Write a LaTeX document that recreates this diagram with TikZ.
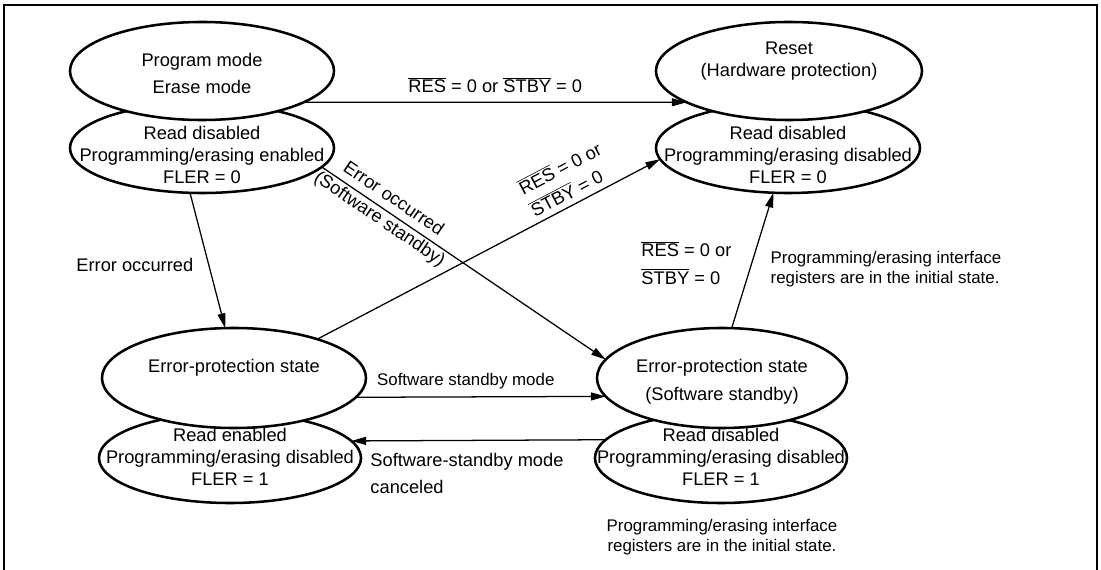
\documentclass[tikz,border=0pt]{standalone}
\usepackage{fontspec}
\setmainfont{Liberation Sans}
\usetikzlibrary{arrows.meta, shapes.geometric}
\tikzset{
  every picture/.style={line width=0.9pt},
  state/.style={ellipse, draw, fill=white, line width=1.8pt, inner sep=0pt, outer sep=0pt},
  txt/.style={align=center, inner sep=0pt, font=\fontsize{13}{15.6}\selectfont},
  arrow/.style={-{Triangle[length=10.5pt, width=5.6pt]}, line width=0.9pt},
  lbl/.style={font=\fontsize{13}{15.6}\selectfont, inner sep=2pt},
  note/.style={font=\fontsize{12}{14.2}\selectfont, inner sep=0pt},
}
\newcommand{\lowact}[1]{$\overline{\mbox{#1}}$}

\begin{document}
\begin{tikzpicture}[x=0.025cm, y=-0.025cm]
  \useasboundingbox (0,0) rectangle (1101,570);
  \draw[line width=2.1pt] (4,570) -- (4,5) -- (1097,5) -- (1097,570);

  % lower ellipses first, the upper ones hide their top arc
  \node[state, minimum width=6.6cm, minimum height=2.25cm] (pmlow) at (202,148) {};
  \node[state, minimum width=6.6cm, minimum height=2.45cm] (pm) at (202,71) {};
  \node[state, minimum width=6.6cm, minimum height=2.25cm] (rstlow) at (788,148) {};
  \node[state, minimum width=6.65cm, minimum height=2.45cm] (rst) at (789,71) {};
  \node[state, minimum width=6.55cm, minimum height=2.25cm] (eplow) at (230,458) {};
  \node[state, minimum width=6.6cm, minimum height=2.5cm] (ep) at (234,378) {};
  \node[state, minimum width=6.3cm, minimum height=2.25cm] (epslow) at (721,458) {};
  \node[state, minimum width=6.25cm, minimum height=2.5cm] (eps) at (722,378) {};

  \node[txt] (pmtxt) at (202,73.5) {Program mode\\[3.6pt]Erase mode};
  \node[txt] (pmlowtxt) at (202,155) {Read disabled\\Programming/erasing enabled\\FLER = 0};
  \node[txt] (rsttxt) at (789,61) {Reset\\(Hardware protection)};
  \node[txt] (rstlowtxt) at (788,155) {Read disabled\\Programming/erasing disabled\\FLER = 0};
  \node[txt] (eptxt) at (234,368) {Error-protection state};
  \node[txt] (eplowtxt) at (230,457) {Read enabled\\Programming/erasing disabled\\FLER = 1};
  \node[txt] (epstxt) at (722,382) {Error-protection state\\[4.3pt](Software standby)};
  \node[txt] (epslowtxt) at (721,457) {Read disabled\\Programming/erasing disabled\\FLER = 1};

  % transitions
  \draw[arrow] (pm.-17.6) -- node[lbl, above=4pt] (toplbl) {\lowact{RES} = 0 or \lowact{STBY} = 0} (rst.197.6);
  \draw[arrow] (pmlow.-105) -- node[lbl, pos=0.53, left=0.3cm] (errlbl) {Error occurred} (ep.100);
  \draw[arrow] (pmlow.-9.6) -- node[lbl, sloped, pos=0.225, above=4pt, inner sep=1.5pt] (errswa) {Error occurred}
    node[lbl, sloped, pos=0.225, below, inner sep=1.5pt] (errswb) {(Software standby)} (eps.171.5);
  \draw[arrow] (ep.25) -- node[lbl, sloped, pos=0.76, above=2.5pt, align=left, inner sep=1.5pt] (diaglbl)
    {\lowact{RES} = 0 or\\[2.2pt]\lowact{STBY} = 0} (rstlow.185);
  \draw[arrow] (eps.79) -- (rstlow.-108);
  \draw[arrow] (ep.-9.9) -- node[note, pos=0.44, above=5pt] (swlbl) {Software standby mode} (eps.189.9);
  \draw[arrow] (epslow.171.5) -- (eplow.8.5);

  \node[lbl, align=left, anchor=west] (rstlbl) at (638,263) {\lowact{RES} = 0 or\\[4pt]\lowact{STBY} = 0};
  \node[note, align=left, anchor=west] (regnotea) at (770,269) {Programming/erasing interface\\registers are in the initial state.};
  \node[lbl, align=left, anchor=west] (cnclbl) at (367,473.5) {Software-standby mode\\[4pt]canceled};
  \node[note, align=center] (regnoteb) at (722,537) {Programming/erasing interface\\registers are in the initial state.};
\end{tikzpicture}
\end{document}
